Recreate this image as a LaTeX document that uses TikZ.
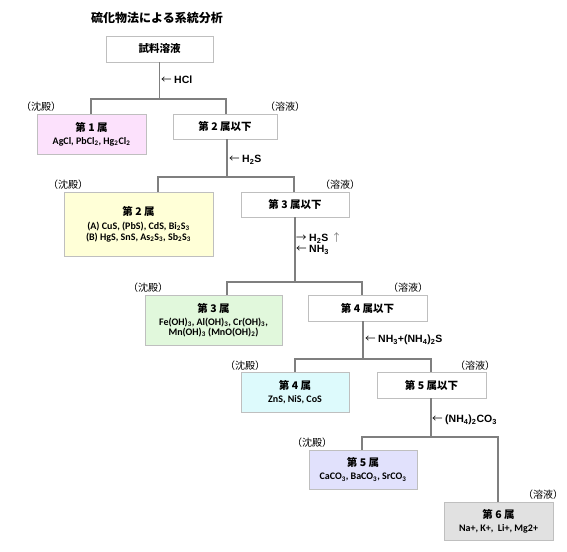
\documentclass[tikz,border=0pt]{standalone}
\usepackage{fontspec}
\setmainfont{Liberation Sans}
\newfontfamily\jpf{Noto Sans CJK JP}
\newfontfamily\fmf{Carlito}
\newcommand\sbs[1]{\textsubscript{#1}}
\newcommand\jt{\jpf\bfseries\fontsize{10.5}{12}\selectfont}
\newcommand\fm{\fmf\bfseries\fontsize{10}{12}\selectfont}
\newcommand\la{{\jpf\mdseries ←}\hspace{2.5pt}}
\newcommand\ra{{\jpf\mdseries →}\hspace{2.5pt}}
\definecolor{boxc}{HTML}{BFBFBF}
\definecolor{linec}{HTML}{7F7F7F}
\definecolor{pinkf}{HTML}{FCE1FC}
\definecolor{yellowf}{HTML}{FFFFD7}
\definecolor{greenf}{HTML}{E1F8DC}
\definecolor{cyanf}{HTML}{DDFAFC}
\definecolor{lavf}{HTML}{E1E1FC}
\definecolor{grayf}{HTML}{E1E1E1}
\tikzset{
  box/.style={draw=boxc, line width=0.8pt, inner sep=0pt, align=center},
  conn/.style={draw=linec, line width=1.1pt},
  tag/.style={font=\jpf\fontsize{10}{12}\selectfont, inner sep=0pt},
  reag/.style={font=\bfseries\fontsize{10.5}{12}\selectfont, inner sep=0pt, anchor=west},
}
\begin{document}
\begin{tikzpicture}[x=1pt,y=-1pt]
\useasboundingbox (0,0) rectangle (567,551);
\fill[white] (0,0) rectangle (567,551);

\node[inner sep=0pt, font=\jpf\bfseries\fontsize{12}{14}\selectfont] (title) at (157,18) {硫化物法による系統分析};

% boxes
\node[box, minimum width=107pt, minimum height=26pt] (s0) at (159.5,49) {\jt 試料溶液};
\node[box, fill=pinkf, minimum width=109pt, minimum height=40pt] (g1) at (91.5,134)
  {\jt 第 1 属\\[1pt]\fm AgCl, PbCl\sbs{2}, Hg\sbs{2}Cl\sbs{2}};
\node[box, minimum width=104pt, minimum height=25pt] (r1) at (225,126.5) {\jt 第 2 属以下};
\node[box, fill=yellowf, minimum width=149pt, minimum height=64pt] (g2) at (138.5,224)
  {\jt 第 2 属\\[2pt]\fm (A) CuS, (PbS), CdS, Bi\sbs{2}S\sbs{3}\\[-1pt]\fm (B) HgS, SnS, As\sbs{2}S\sbs{3}, Sb\sbs{2}S\sbs{3}};
\node[box, minimum width=108pt, minimum height=25pt] (r2) at (295,204.5) {\jt 第 3 属以下};
\node[box, fill=greenf, minimum width=137pt, minimum height=50pt] (g3) at (213.5,320)
  {\jt 第 3 属\\[1pt]\fm Fe(OH)\sbs{3}, Al(OH)\sbs{3}, Cr(OH)\sbs{3},\\[-2pt]\fm Mn(OH)\sbs{3} (MnO(OH)\sbs{2})};
\node[box, minimum width=119pt, minimum height=26pt] (r3) at (367.5,308) {\jt 第 4 属以下};
\node[box, fill=cyanf, minimum width=108pt, minimum height=40pt] (g4) at (295,392)
  {\jt 第 4 属\\[1pt]\fm ZnS, NiS, CoS};
\node[box, minimum width=109pt, minimum height=26pt] (r4) at (431.5,385) {\jt 第 5 属以下};
\node[box, fill=lavf, minimum width=108pt, minimum height=39pt] (g5) at (363,469.5)
  {\jt 第 5 属\\[1pt]\fm CaCO\sbs{3}, BaCO\sbs{3}, SrCO\sbs{3}};
\node[box, fill=grayf, minimum width=109pt, minimum height=38pt] (g6) at (498.5,521)
  {\jt 第 6 属\\[1pt]\fm Na+, K+,\ \ Li+, Mg2+};

% junctions
\coordinate (j1) at (159.5,99);  \coordinate (j1l) at (91,99);  \coordinate (j1r) at (226,99);
\coordinate (j2) at (227,177);   \coordinate (j2l) at (158,177); \coordinate (j2r) at (294,177);
\coordinate (j3) at (295,282);   \coordinate (j3l) at (227,282); \coordinate (j3r) at (362,282);
\coordinate (j4) at (363,359);   \coordinate (j4l) at (295,359); \coordinate (j4r) at (431,359);
\coordinate (j5) at (431,437);   \coordinate (j5l) at (362,437); \coordinate (j5r) at (498,437);

% connectors
\draw[conn] (s0.south) -- (j1);
\draw[conn] (j1l |- g1.north) -- (j1l) -- (j1r) -- (j1r |- r1.north);
\draw[conn] (r1.south -| j2) -- (j2);
\draw[conn] (j2l |- g2.north) -- (j2l) -- (j2r) -- (j2r |- r2.north);
\draw[conn] (r2.south -| j3) -- (j3);
\draw[conn] (j3l |- g3.north) -- (j3l) -- (j3r) -- (j3r |- r3.north);
\draw[conn] (r3.south -| j4) -- (j4);
\draw[conn] (j4l |- g4.north) -- (j4l) -- (j4r) -- (j4r |- r4.north);
\draw[conn] (r4.south -| j5) -- (j5);
\draw[conn] (j5l |- g5.north) -- (j5l) -- (j5r) -- (j5r |- g6.north);

% reagents
\node[reag] (a1) at (161,80) {\la HCl};
\node[reag] (a2) at (229,160) {\la H\sbs{2}S};
\node[reag] (a3) at (296,238) {\ra H\sbs{2}S {\jpf\mdseries\color{linec}↑}};
\node[reag] (a3b) at (296,250) {\la NH\sbs{3}};
\node[reag] (a4) at (365,340) {\la NH\sbs{3}+(NH\sbs{4})\sbs{2}S};
\node[reag] (a5) at (432,420) {\la (NH\sbs{4})\sbs{2}CO\sbs{3}};

% tags
\node[tag] (t1a) at (41,107) {（沈殿）};
\node[tag] (t1b) at (285,107) {（溶液）};
\node[tag] (t2a) at (68,185) {（沈殿）};
\node[tag] (t2b) at (340,185) {（溶液）};
\node[tag] (t3a) at (148,288) {（沈殿）};
\node[tag] (t3b) at (408,288) {（溶液）};
\node[tag] (t4a) at (245,366) {（沈殿）};
\node[tag] (t4b) at (475,366) {（溶液）};
\node[tag] (t5a) at (312,443) {（沈殿）};
\node[tag] (t5b) at (543,495) {（溶液）};
\end{tikzpicture}
\end{document}
